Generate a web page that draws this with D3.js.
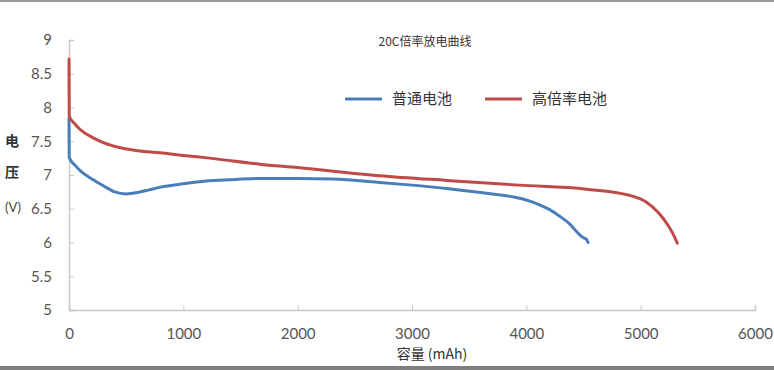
<!DOCTYPE html>
<html>
<head>
<meta charset="utf-8">
<script src="https://cdn.jsdelivr.net/npm/d3@7"></script>
<style>
html,body{margin:0;padding:0;background:#fff;}
svg{display:block;}
</style>
</head>
<body>
<svg id="chart" width="774" height="370"></svg>
<script>
const title = "20C倍率放电曲线";
const seriesNames = ["普通电池", "高倍率电池"];
const xTicks = [0, 1000, 2000, 3000, 4000, 5000, 6000];
const yTicks = [5, 5.5, 6, 6.5, 7, 7.5, 8, 8.5, 9];
const normalCapacity = [0, 2, 50, 100, 212, 300, 400, 500, 600, 700, 800, 1000, 1200, 1400, 1700, 2000, 2300, 2716, 3000, 3300, 3600, 3900, 4000, 4100, 4200, 4300, 4376, 4463, 4500, 4524, 4540];
const normalVoltage = [7.84, 7.26, 7.15, 7.06, 6.93, 6.84, 6.75, 6.72, 6.74, 6.78, 6.82, 6.87, 6.91, 6.93, 6.95, 6.95, 6.94, 6.89, 6.85, 6.80, 6.74, 6.67, 6.63, 6.57, 6.49, 6.38, 6.28, 6.12, 6.07, 6.05, 6.00];
const highCapacity = [0, 2, 50, 100, 212, 300, 460, 600, 795, 1000, 1231, 1668, 2000, 2716, 3300, 3939, 4524, 4900, 5048, 5162, 5249, 5300, 5320];
const highVoltage = [8.72, 7.87, 7.76, 7.67, 7.55, 7.48, 7.40, 7.36, 7.33, 7.29, 7.25, 7.16, 7.11, 6.99, 6.92, 6.85, 6.79, 6.70, 6.60, 6.43, 6.23, 6.07, 5.99];

const colors = ["#4a7ebb", "#be4b48"];
const svg = d3.select("#chart");
const W = 774, H = 370;

// frame bars (screenshot border)
svg.append("rect").attr("x",0).attr("y",0).attr("width",W).attr("height",2).attr("fill","#9a9a9a");
svg.append("rect").attr("x",0).attr("y",366).attr("width",W).attr("height",4).attr("fill","#7f7f7f");

const x = d3.scaleLinear().domain([0, 6000]).range([69, 755]);
const y = d3.scaleLinear().domain([5, 9]).range([310, 40]);

const axisColor = "#c8c8c8";
const textColor = "#555";
const font = "Lato, 'Open Sans', sans-serif";

// x axis
const gx = svg.append("g").attr("transform", `translate(0,${y(5)})`)
  .call(d3.axisBottom(x).tickValues(xTicks).tickSize(-5).tickPadding(18).tickFormat(d3.format("d")));
gx.select(".domain").attr("stroke", axisColor).attr("stroke-width", 1.5);
gx.selectAll(".tick line").attr("stroke", axisColor);
gx.selectAll("text").attr("fill", textColor).style("font-family", font).style("font-size", "15px");

// y axis
const gy = svg.append("g").attr("transform", `translate(${x(0)},0)`)
  .call(d3.axisLeft(y).tickValues(yTicks).tickSize(-5).tickPadding(17).tickFormat(d => String(d)));
gy.select(".domain").attr("stroke", axisColor).attr("stroke-width", 1.5);
gy.selectAll(".tick line").attr("stroke", axisColor);
gy.selectAll("text").attr("fill", textColor).style("font-family", font).style("font-size", "15px");

// lines
const line = d3.line().x(d => x(d[0])).y(d => y(d[1])).curve(d3.curveMonotoneX);
const data = [
  d3.zip(normalCapacity, normalVoltage),
  d3.zip(highCapacity, highVoltage)
];
data.forEach((pts, i) => {
  svg.append("path").datum(pts).attr("d", line)
    .attr("fill", "none").attr("stroke", colors[i]).attr("stroke-width", 3)
    .attr("stroke-linejoin", "round").attr("stroke-linecap", "round");
});

// title
svg.append("text").attr("x", 425).attr("y", 46).attr("text-anchor", "middle")
  .attr("fill", "#333").style("font-family", "'Noto Sans CJK SC', sans-serif").style("font-size", "12px")
  .text(title);

// legend
const legendX = [345, 485];
seriesNames.forEach((n, i) => {
  svg.append("line").attr("x1", legendX[i]).attr("x2", legendX[i] + 37).attr("y1", 99).attr("y2", 99)
    .attr("stroke", colors[i]).attr("stroke-width", 3);
  svg.append("text").attr("x", legendX[i] + 47).attr("y", 104)
    .attr("fill", "#333").style("font-family", "'Noto Sans CJK SC', sans-serif").style("font-size", "15px")
    .text(n);
});

// y label
const yl = ["电", "压"];
yl.forEach((c, i) => {
  svg.append("text").attr("x", 12).attr("y", 146 + i * 31).attr("text-anchor", "middle")
    .attr("fill", "#333").style("font-family", "'Noto Sans CJK SC', sans-serif").style("font-size", "14px").style("font-weight", "bold")
    .text(c);
});
svg.append("text").attr("x", 13).attr("y", 212).attr("text-anchor", "middle")
  .attr("fill", "#444").style("font-family", font).style("font-size", "13px").text("(V)");

// x label
svg.append("text").attr("x", 432).attr("y", 359).attr("text-anchor", "middle")
  .attr("fill", "#333").style("font-family", "'Noto Sans CJK SC', sans-serif").style("font-size", "14px")
  .text("容量 (mAh)");
</script>
</body>
</html>
